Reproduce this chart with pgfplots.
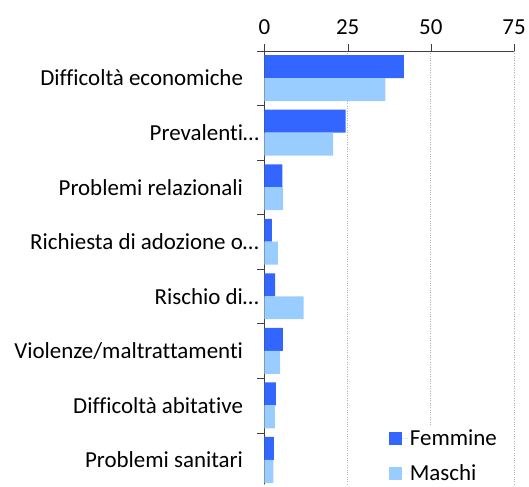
\documentclass[border=0pt]{standalone}
\usepackage{pgfplots}
\pgfplotsset{compat=1.18}
\usepackage{pgfplotstable}
\usepackage{fontspec}
\setmainfont[Ligatures=NoCommon]{Carlito}
\definecolor{fem}{HTML}{3366FF}
\definecolor{mas}{HTML}{99CCFF}

\pgfplotstableread{
idx F M
0 41.9 36.3
1 24.4 20.6
2 5.4 5.6
3 2.2 4.0
4 3.2 11.8
5 5.5 4.7
6 3.4 3.1
7 2.8 2.7
}\data

\begin{document}
\begin{tikzpicture}
\begin{axis}[
    name=ax,
    scale only axis,
    width=250.4pt, height=435pt,
    xbar, bar width=23pt,
    y dir=reverse,
    xmin=0, xmax=75,
    ymin=-0.5, ymax=7.45,
    axis x line*=top,
    axis y line*=left,
    axis line style={black!75},
    tick align=outside,
    major tick length=7pt,
    tick style={black!75},
    xtick={0,25,50,75},
    xmajorgrids,
    grid style={gray!60, dotted, line width=0.8pt},
    ytick={-0.5,0.5,...,6.5},
    yticklabels={},
    extra y ticks={0,...,7},
    extra y tick labels={Difficoltà economiche, Prevalenti\rlap{…}, Problemi relazionali, Richiesta di adozione o\rlap{…}, Rischio di\rlap{…}, Violenze/maltrattamenti, Difficoltà abitative, Problemi sanitari},
    extra y tick style={major tick length=0pt, yticklabel style={anchor=east, xshift=-18pt}},
    tick label style={font=\fontsize{23}{27}\selectfont},
    /pgf/number format/assume math mode=true,
    xticklabel style={yshift=6pt},
    legend style={at={(0.474,0.136)}, anchor=north west, draw=none, fill=white,
        font=\fontsize{23}{27}\selectfont, row sep=14pt, inner xsep=6pt},
    legend cell align=left,
    legend image code/.code={\path (0pt,0pt) -- (19pt,0pt);\fill[#1] (0pt,-6.5pt) rectangle (13pt,6.5pt);},
]
\addplot[fill=fem, draw=none, bar shift=11.5pt] table[x=F, y=idx] {\data};
\addplot[fill=mas, draw=none, bar shift=-11.5pt] table[x=M, y=idx] {\data};
\legend{Femmine, Maschi}
\end{axis}
\path ([xshift=-265.3pt]ax.south west) rectangle ([xshift=13.3pt,yshift=51pt]ax.north east);
\end{tikzpicture}
\end{document}
